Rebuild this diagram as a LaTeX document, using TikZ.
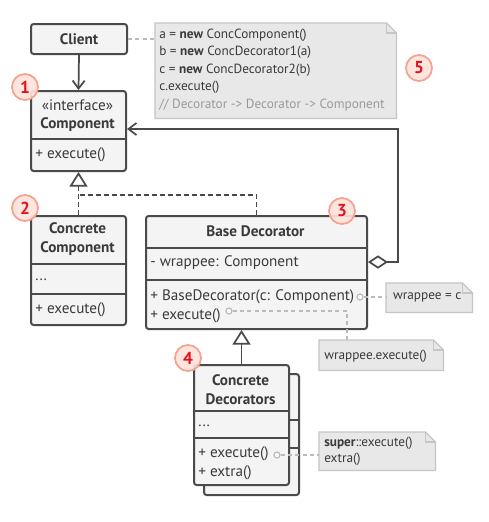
\documentclass[tikz,border=0pt]{standalone}
\usepackage{fontspec}
\setmainfont{PT Sans}
\usetikzlibrary{arrows.meta,calc}
\definecolor{bordc}{HTML}{4A4A4A}
\definecolor{boxc}{HTML}{F4F4F4}
\definecolor{txtc}{HTML}{3A3A3A}
\definecolor{notec}{HTML}{E8E8E8}
\definecolor{notebd}{HTML}{C6C6C6}
\definecolor{dashc}{HTML}{BBBBBB}
\definecolor{cmtc}{HTML}{9A9A9A}
\definecolor{badgefill}{HTML}{FFE3DA}
\definecolor{badgebd}{HTML}{F4A190}
\definecolor{badgetxt}{HTML}{E3121F}
\newcommand\px[1]{#1*0.75pt}
\newcommand\notebox[1]{%
  \draw[notestyle] (#1.north west) -- ($(#1.north east)+(-10,0)$) -- ($(#1.north east)+(0,10)$) -- (#1.south east) -- (#1.south west) -- cycle;
  \draw[notebd, line width=1pt] ($(#1.north east)+(-10,0)$) -- ($(#1.north east)+(-10,10)$) -- ($(#1.north east)+(0,10)$);}
\tikzset{
  cls/.style={draw=bordc, fill=boxc, rounded corners=2pt, line width=1.5pt, inner sep=0pt, anchor=north west},
  frame/.style={inner sep=0pt, anchor=north west},
  divider/.style={draw=bordc, line width=1.5pt},
  txt/.style={text=txtc, inner sep=0pt, font=\fontsize{11.4pt}{14.2pt}\selectfont},
  btxt/.style={txt, font=\bfseries\fontsize{11.4pt}{14.2pt}\selectfont},
  ltxt/.style={txt, anchor=west},
  notestyle/.style={draw=notebd, fill=notec, line width=1pt},
  ntxt/.style={txt, anchor=west, font=\fontsize{9.95pt}{12pt}\selectfont},
  gdash/.style={draw=dashc, line width=1pt, dash pattern=on 3pt off 2.5pt},
  ddash/.style={draw=bordc, line width=1.2pt, dash pattern=on 3.5pt off 2.5pt},
  conn/.style={draw=bordc, line width=1.3pt},
  dot/.style={circle, draw=dashc, fill=white, line width=0.9pt, inner sep=0pt, minimum size=\px{6}},
  badge/.style={circle, draw=badgebd, fill=badgefill, fill opacity=0.9, text opacity=1, line width=1.3pt, inner sep=0pt, minimum size=\px{26}, text=badgetxt, font=\bfseries\fontsize{13pt}{13pt}\selectfont},
}
\begin{document}
\begin{tikzpicture}[x=0.75pt,y=-0.75pt]
\useasboundingbox[fill=white] (0,0) rectangle (489,522);

% Client
\node[cls, minimum width=\px{96}, minimum height=\px{30}] (client) at (30,23) {};
\node[btxt] (clientT) at (client.center) {Client};

% Component
\node[cls, minimum width=\px{95}, minimum height=\px{80}] (comp) at (30,90) {};
\draw[divider] (30,139) -- (125,139);
\node[txt] (compS) at (77.5,105.5) {«interface»};
\node[btxt] (compN) at (77.5,125) {Component};
\node[ltxt] (compM) at (35,155) {+ execute()};

% Concrete Component
\node[cls, minimum width=\px{95}, minimum height=\px{109}] (cc) at (30,215) {};
\draw[divider] (30,264) -- (125,264);
\draw[divider] (30,294) -- (125,294);
\node[btxt, align=center] (ccN) at (77.5,239.5) {Concrete\\Component};
\node[ltxt] (ccF) at (35,280) {...};
\node[ltxt] (ccM) at (35,310) {+ execute()};

% Base Decorator
\node[cls, minimum width=\px{221}, minimum height=\px{113}] (bd) at (145,215) {};
\draw[divider] (145,248) -- (366,248);
\draw[divider] (145,280) -- (366,280);
\node[btxt] (bdN) at (255.5,231) {Base Decorator};
\node[ltxt] (bdF) at (150,263) {- wrappee: Component};
\node[ltxt] (bdM1) at (150,296.5) {+ BaseDecorator(c: Component)};
\node[ltxt] (bdM2) at (150,315.5) {+ execute()};

% Concrete Decorators (stacked)
\node[cls, minimum width=\px{95}, minimum height=\px{121}] (cdb) at (203,373) {};
\draw[divider] (288,420) -- (298,420);
\draw[divider] (288,448) -- (298,448);
\node[cls, minimum width=\px{95}, minimum height=\px{120}] (cd) at (193,364) {};
\draw[divider] (193,411) -- (288,411);
\draw[divider] (193,438) -- (288,438);
\node[btxt, align=center] (cdN) at (240.5,389.5) {Concrete\\Decorators};
\node[ltxt] (cdF) at (198,426) {...};
\node[ltxt] (cdM1) at (198,453.5) {+ execute()};
\node[ltxt] (cdM2) at (198,472.5) {+ extra()};

% Notes
\node[frame, minimum width=\px{241}, minimum height=\px{95}] (n1) at (155,23) {};
\notebox{n1}
\node[ntxt] (n1a) at (159,35) {a = \textbf{new} ConcComponent()};
\node[ntxt] (n1b) at (159,52.5) {b = \textbf{new} ConcDecorator1(a)};
\node[ntxt] (n1c) at (159,70) {c = \textbf{new} ConcDecorator2(b)};
\node[ntxt] (n1d) at (159,87.5) {c.execute()};
\node[ntxt, text=cmtc] (n1e) at (159,105) {// Decorator -> Decorator -> Component};

\node[frame, minimum width=\px{86}, minimum height=\px{29}] (n2) at (386,283) {};
\notebox{n2}
\node[ntxt, anchor=center] (n2t) at ($(n2.center)+(-2,0)$) {wrappee = c};

\node[frame, minimum width=\px{124}, minimum height=\px{30}] (n3) at (319,340) {};
\notebox{n3}
\node[ntxt] (n3t) at (324,356) {wrappee.execute()};

\node[frame, minimum width=\px{116}, minimum height=\px{38}] (n4) at (319,432) {};
\notebox{n4}
\node[ntxt] (n4a) at (324,443) {\textbf{super}::execute()};
\node[ntxt] (n4b) at (324,459.5) {extra()};

% dots
\node[dot] (d1) at (360,297) {};
\node[dot] (d2) at (229,311) {};
\node[dot] (d3) at (277,455) {};

% note connectors
\draw[gdash] (client.east) -- (client.east -| n1.west);
\draw[gdash] (d1.east) -- (d1.east -| n2.west);
\draw[gdash] (d2.east) -| ($(n3.north west)+(28,0)$);
\draw[gdash] (d3.east) -- (d3.east -| n4.west);

% Client -> Component
\draw[conn, -{Straight Barb[length=6pt, width=9pt, line width=1.3pt]}] (client.south) -- (comp.north);

% realization
\draw[ddash, -{Triangle[open, fill=white, length=11pt, width=13.5pt, line width=1.3pt]}] (cc.north) -- (comp.south);
\draw[ddash] (bd.north) |- ($(cc.north)+(0,-20)$);

% inheritance CD -> BD
\draw[conn, -{Triangle[open, fill=white, length=11pt, width=13.5pt, line width=1.3pt]}] (cd.north) -- (cd.north |- bd.south);

% aggregation
\draw[conn, {Diamond[open, fill=white, length=15pt, width=10pt, line width=1.3pt]}-{Straight Barb[length=6pt, width=9pt, line width=1.3pt]}]
  ($(bd.north east)+(0,47)$) -- ++(30,0) |- ($(comp.north east)+(0,39)$);

% badges
\node[badge] (b1) at (25,87) {1};
\node[badge] (b2) at (25,208) {2};
\node[badge] (b3) at (342,211) {3};
\node[badge] (b4) at (188,358) {4};
\node[badge] (b5) at (419,68) {5};
\end{tikzpicture}
\end{document}
